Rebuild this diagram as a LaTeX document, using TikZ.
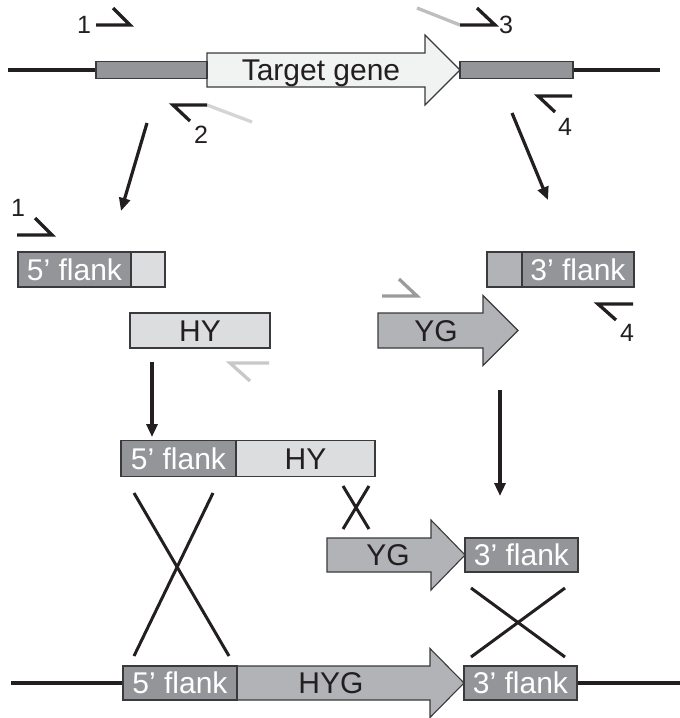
\documentclass[tikz,border=0pt]{standalone}
\usepackage{fontspec}
\setmainfont{Liberation Sans}
\usetikzlibrary{arrows.meta}
\definecolor{flank}{HTML}{939598}
\definecolor{lightfill}{HTML}{DCDDDE}
\definecolor{midfill}{HTML}{B1B3B6}
\definecolor{palefill}{HTML}{F1F2F2}
\definecolor{ink}{HTML}{231F20}
\definecolor{edge}{HTML}{3A3A3C}
\definecolor{tailA}{HTML}{D3D4D5}
\definecolor{tailB}{HTML}{BCBEC0}
\definecolor{primerC}{HTML}{C7C8CA}
\definecolor{primerD}{HTML}{9A9B9D}
\begin{document}
\begin{tikzpicture}[x=1pt,y=-1pt,
  box/.style={draw=edge, line width=1.3pt, inner sep=0pt, text height=21.5pt, text depth=0pt,
    font=\fontsize{30}{30}\selectfont},
  flankbox/.style={box, fill=flank, text=white},
  lightbox/.style={box, fill=lightfill, text=ink},
  midbox/.style={box, fill=midfill, text=ink},
  arrowshape/.style={draw=edge, line width=1.1pt, line join=miter},
  lbl/.style={inner sep=0pt, text=ink, text height=21.5pt, text depth=0pt, font=\fontsize{30}{30}\selectfont},
  num/.style={inner sep=0pt, text=ink, text height=18pt, text depth=0pt, font=\fontsize{25}{25}\selectfont},
  genome/.style={line width=4pt, ink},
  primer/.style={line width=3.3pt, ink, line join=miter, line cap=butt},
  tail/.style={line width=3.3pt},
  conn/.style={line width=3.2pt, ink, -{Triangle[length=13pt,width=11pt]}},
  cross/.style={line width=3pt, ink}
]
\useasboundingbox (0,0) rectangle (680,718);

% ---------- top genome ----------
\coordinate (gL) at (8,70);
\coordinate (gR) at (660,70);
\draw[genome] (gL) -- (gR);
\draw[arrowshape, fill=palefill] (207,53) -- (425,53) -- (425,35) -- (460,70) -- (425,105) -- (425,87) -- (207,87) -- cycle;
\node[lbl] (target) at (321,70) {Target gene};
\node[flankbox, minimum width=111pt, minimum height=17pt, text height=0pt] (tL) at (151.5,70) {};
\node[flankbox, minimum width=113pt, minimum height=17pt, text height=0pt] (tR) at (516.5,70) {};

% primers top
\draw[primer] (96,25) -- (130,25) -- (113,8);
\node[num] (n1) at (84,24) {1};
\draw[tail, tailA] (207,105) -- (252,122);
\draw[primer] (207,105) -- (173,105) -- (190,121);
\node[num] (n2) at (201,134) {2};
\draw[tail, tailB] (460,25) -- (417,8);
\draw[primer] (460,25) -- (495,25) -- (477,8);
\node[num] (n3) at (506,24) {3};
\draw[primer] (572,96) -- (538,96) -- (555,112);
\node[num] (n4) at (565,126) {4};

% arrows from top
\coordinate (a1s) at (147,123);
\coordinate (a1e) at (121,211);
\draw[conn] (a1s) -- (a1e);
\coordinate (a2s) at (512,113);
\coordinate (a2e) at (548,200);
\draw[conn] (a2s) -- (a2e);

% ---------- middle left ----------
\draw[primer] (17,235) -- (52,235) -- (35,218);
\node[num] (n1b) at (18,207) {1};
\node[flankbox, minimum width=113pt, minimum height=35pt] (f5a) at (74.5,269.5) {5’ flank};
\node[lightbox, minimum width=34pt, minimum height=35pt, text height=0pt] (f5ax) at (148,269.5) {};
\node[lightbox, minimum width=140pt, minimum height=35pt] (hy) at (200,330.5) {HY};
\draw[primer, primerC] (269,363) -- (230,363) -- (250,381);

% ---------- middle right ----------
\node[midbox, minimum width=35pt, minimum height=35pt, text height=0pt] (f3ax) at (504.5,269.5) {};
\node[flankbox, minimum width=112pt, minimum height=35pt] (f3a) at (578,269.5) {3’ flank};
\draw[primer] (633,304) -- (598,304) -- (616,320);
\node[num] (n4b) at (627,332) {4};
\draw[primer, primerD] (382,296) -- (417,296) -- (399,279);
\draw[arrowshape, fill=midfill] (378,313) -- (483,313) -- (483,295.5) -- (518,330.5) -- (483,365.5) -- (483,348) -- (378,348) -- cycle;
\node[lbl] (yg1) at (436,330.5) {YG};

% down arrows
\coordinate (a3s) at (152,362);
\coordinate (a3e) at (152,437);
\draw[conn] (a3s) -- (a3e);
\coordinate (a4s) at (500,390);
\coordinate (a4e) at (500,496);
\draw[conn] (a4s) -- (a4e);

% ---------- lower construct ----------
\node[flankbox, minimum width=115pt, minimum height=36pt] (f5b) at (178.5,458.5) {5’ flank};
\node[lightbox, minimum width=139pt, minimum height=36pt] (hyb) at (305.5,458.5) {HY};
\draw[arrowshape, fill=midfill] (327,538) -- (431,538) -- (431,520) -- (465,555) -- (431,590) -- (431,572) -- (327,572) -- cycle;
\node[lbl] (yg2) at (388,555) {YG};
\node[flankbox, minimum width=113pt, minimum height=34pt] (f3b) at (521.5,555) {3’ flank};

% crossovers
\draw[cross] (343,486) -- (369,529);
\draw[cross] (369,486) -- (343,529);
\draw[cross] (134,493) -- (229,656);
\draw[cross] (213,493) -- (134,656);
\draw[cross] (471,588) -- (565,657);
\draw[cross] (565,588) -- (471,657);

% ---------- bottom genome ----------
\coordinate (bL) at (11,683);
\coordinate (bR) at (680,683);
\draw[genome] (bL) -- (bR);
\draw[arrowshape, fill=midfill] (237,666) -- (430,666) -- (430,648.5) -- (464,683) -- (430,717.5) -- (430,700) -- (237,700) -- cycle;
\node[lbl] (hyg) at (331,683) {HYG};
\node[flankbox, minimum width=114pt, minimum height=34pt] (f5c) at (180,683) {5’ flank};
\node[flankbox, minimum width=113pt, minimum height=34pt] (f3c) at (520.5,683) {3’ flank};
\end{tikzpicture}
\end{document}
